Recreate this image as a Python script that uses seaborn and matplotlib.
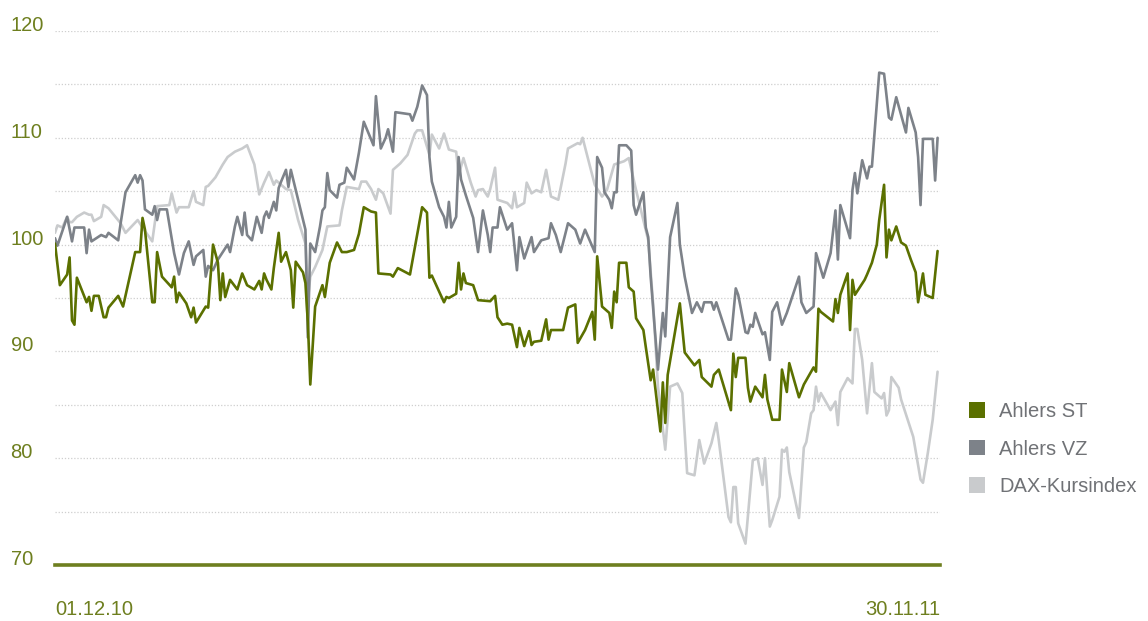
import pandas as pd
import seaborn as sns
import matplotlib.pyplot as plt
from matplotlib.patches import Patch
from matplotlib.ticker import MultipleLocator

# days since 01.12.10, indexed to 100
st_day = [0, 2, 5, 6, 7, 8, 9, 13, 14, 15, 16, 18, 20, 21, 22, 26, 28, 33, 35, 36, 37, 40, 41, 42, 44,
          48, 49, 50, 51, 54, 56, 57, 58, 62, 63, 65, 67, 68, 69, 70, 72, 75, 77, 79, 82, 84, 85, 86, 87,
          89, 90, 92, 93, 95, 97, 98, 99, 102, 103, 104, 105, 107, 110, 111, 113, 116, 118, 120, 123,
          125, 127, 130, 132, 133, 138, 139, 141, 146, 151, 153, 154, 155, 160, 161, 162, 165, 166, 167,
          168, 169, 172, 174, 179, 181, 182, 184, 186, 188, 190, 191, 193, 195, 196, 197, 200, 202, 203,
          204, 209, 211, 214, 215, 218, 221, 222, 223, 225, 228, 229, 230, 231, 232, 235, 236, 238, 239,
          242, 243, 245, 246, 249, 250, 251, 252, 257, 259, 263, 265, 266, 270, 271, 273, 278, 279, 280,
          281, 284, 285, 286, 288, 291, 292, 293, 295, 298, 299, 301, 302, 306, 308, 312, 313, 314, 315,
          320, 321, 322, 323, 326, 327, 328, 329, 333, 334, 336, 338, 339, 341, 342, 343, 344, 346, 348,
          350, 352, 354, 355, 357, 358, 361, 363]
st_val = [100.1, 96.2, 97.2, 98.8, 92.9, 92.5, 96.9, 94.6, 95.1, 93.8, 95.2, 95.2, 93.2, 93.2, 94.1,
          95.2, 94.2, 99.3, 99.3, 102.5, 101.4, 94.6, 94.6, 99.3, 97.0, 96.0, 97.0, 94.6, 95.5, 94.5,
          93.2, 94.1, 92.7, 94.2, 94.1, 100.0, 98.3, 94.8, 97.3, 95.1, 96.7, 95.8, 97.3, 96.2, 95.8,
          96.6, 95.8, 97.3, 96.7, 95.8, 97.8, 101.1, 98.4, 99.3, 97.6, 94.1, 98.4, 97.4, 96.4, 92.7,
          86.9, 94.2, 96.2, 95.1, 98.3, 100.2, 99.3, 99.3, 99.5, 101.0, 103.5, 103.1, 103.0, 97.3,
          97.2, 97.0, 97.8, 97.2, 103.5, 103.0, 96.9, 97.1, 94.6, 95.1, 95.0, 95.4, 98.3, 95.8, 97.3,
          96.4, 96.2, 94.8, 94.7, 95.2, 93.2, 92.5, 92.6, 92.5, 90.4, 92.2, 90.5, 91.9, 90.6, 90.9,
          91.0, 93.0, 91.1, 92.0, 92.0, 94.1, 94.4, 90.8, 92.0, 93.7, 91.1, 98.9, 94.2, 93.6, 92.2,
          95.6, 94.6, 98.3, 98.3, 96.0, 95.6, 93.1, 92.0, 90.4, 87.3, 88.3, 82.5, 87.1, 83.3, 87.8,
          94.5, 89.9, 88.7, 89.2, 87.6, 86.7, 87.8, 88.3, 84.5, 89.8, 87.6, 89.4, 89.4, 86.6, 85.3,
          86.7, 85.7, 87.8, 85.5, 83.6, 83.6, 88.3, 86.2, 88.9, 85.7, 86.9, 88.5, 88.1, 94.0, 93.7,
          92.8, 94.9, 93.6, 95.3, 97.3, 92.0, 96.7, 95.3, 96.7, 97.2, 98.3, 100.0, 102.3, 105.6, 98.8,
          101.4, 100.4, 101.7, 100.2, 99.9, 98.6, 97.4, 94.6, 97.3, 95.3, 95.0, 99.4]

vz_day = [0, 1, 5, 7, 8, 12, 13, 14, 15, 19, 21, 22, 26, 27, 29, 33, 34, 35, 36, 37, 40, 41, 42, 43,
          46, 49, 51, 53, 55, 57, 58, 61, 62, 63, 65, 67, 71, 72, 74, 75, 77, 78, 79, 81, 83, 85, 86,
          87, 88, 90, 91, 92, 93, 95, 96, 97, 100, 103, 104, 105, 107, 109, 110, 111, 112, 113, 116,
          117, 119, 120, 123, 125, 127, 131, 132, 134, 136, 137, 139, 140, 146, 147, 149, 151, 153,
          154, 155, 158, 160, 161, 162, 163, 165, 166, 167, 169, 172, 174, 176, 178, 179, 180, 182,
          183, 186, 188, 190, 191, 193, 196, 197, 200, 203, 204, 206, 208, 211, 214, 216, 218, 222,
          223, 225, 226, 228, 229, 230, 231, 232, 235, 237, 238, 239, 242, 243, 244, 245, 248, 250,
          251, 253, 256, 257, 259, 262, 264, 266, 267, 270, 271, 272, 274, 277, 278, 280, 281, 284,
          285, 286, 287, 288, 291, 292, 294, 295, 297, 299, 301, 306, 307, 309, 312, 313, 316, 319,
          321, 322, 323, 327, 328, 329, 330, 332, 334, 335, 336, 339, 341, 343, 344, 346, 350, 351,
          354, 355, 356, 357, 361, 362, 363]
vz_val = [100.6, 99.9, 102.6, 100.3, 101.6, 101.6, 99.2, 101.4, 100.3, 100.9, 100.7, 101.1, 100.4,
          102.0, 104.9, 106.5, 105.8, 106.5, 106.0, 103.3, 102.8, 103.6, 102.3, 103.3, 103.3, 99.2,
          97.2, 99.2, 100.3, 98.1, 98.9, 99.5, 97.0, 98.0, 97.6, 98.6, 100.0, 99.3, 101.7, 102.6,
          100.9, 103.0, 100.9, 100.4, 102.6, 101.1, 102.6, 103.1, 102.5, 104.0, 103.2, 105.3, 105.9,
          107.0, 105.4, 107.0, 104.2, 101.4, 91.3, 100.1, 99.3, 101.7, 103.2, 103.5, 106.7, 105.1,
          104.4, 105.6, 105.8, 107.2, 106.1, 108.6, 111.5, 109.3, 113.9, 109.0, 110.0, 110.8, 108.7,
          112.4, 112.2, 111.6, 112.9, 114.9, 114.0, 108.2, 105.9, 103.5, 102.6, 101.6, 104.0, 101.6,
          102.6, 108.2, 106.1, 104.6, 102.5, 99.3, 103.2, 100.9, 99.3, 101.6, 101.6, 103.5, 101.4,
          102.0, 97.6, 100.7, 98.7, 100.7, 99.3, 100.4, 100.6, 102.0, 100.9, 99.3, 102.0, 101.4,
          100.1, 101.4, 99.3, 108.2, 107.2, 104.9, 104.2, 103.4, 104.9, 104.9, 109.3, 109.3, 108.8,
          103.7, 102.8, 104.9, 101.6, 100.7, 97.0, 88.3, 93.6, 91.4, 100.7, 103.9, 100.0, 97.0, 93.6,
          94.6, 93.7, 94.6, 94.6, 93.9, 94.6, 93.2, 91.1, 91.1, 95.9, 95.3, 91.8, 91.7, 92.5, 92.3,
          93.6, 91.6, 91.8, 89.2, 93.7, 94.6, 92.5, 93.6, 97.0, 94.6, 93.6, 94.2, 99.2, 96.9, 99.2,
          103.2, 98.6, 103.7, 100.6, 105.1, 106.7, 104.8, 107.9, 106.2, 107.3, 107.3, 116.1, 116.0,
          111.9, 111.7, 113.8, 110.5, 112.8, 110.5, 108.2, 103.7, 109.9, 109.9, 106.0, 110.0]

dax_day = [0, 1, 3, 5, 6, 7, 9, 12, 14, 15, 16, 19, 20, 22, 27, 29, 34, 36, 40, 42, 47, 48, 50, 51,
           55, 57, 58, 61, 62, 63, 66, 69, 71, 74, 77, 79, 82, 84, 86, 88, 90, 91, 95, 97, 100, 103,
           104, 105, 107, 110, 112, 117, 118, 120, 125, 126, 128, 130, 132, 133, 135, 138, 139, 142,
           145, 148, 149, 151, 154, 155, 158, 160, 162, 165, 166, 168, 171, 173, 174, 176, 178, 179,
           181, 182, 186, 188, 189, 190, 193, 194, 196, 198, 200, 202, 204, 207, 210, 211, 215, 216,
           217, 222, 225, 227, 230, 234, 236, 239, 242, 244, 246, 248, 251, 253, 256, 258, 260, 263,
           265, 267, 270, 272, 273, 277, 278, 279, 280, 281, 284, 287, 289, 291, 292, 294, 295, 298,
           299, 300, 301, 302, 306, 308, 309, 311, 312, 313, 314, 315, 317, 319, 321, 322, 323, 326,
           328, 329, 330, 332, 334, 336, 337, 340, 341, 342, 343, 344, 347, 348, 353, 356, 357, 359,
           361, 363]
dax_val = [101.1, 101.8, 101.6, 102.6, 102.1, 102.1, 102.6, 103.0, 102.8, 102.8, 102.2, 102.6, 103.7,
           103.4, 102.0, 101.1, 102.3, 101.6, 100.3, 103.6, 103.7, 104.8, 103.0, 103.5, 103.5, 105.0,
           104.0, 103.7, 105.4, 105.5, 106.3, 107.5, 108.2, 108.7, 109.0, 109.3, 107.5, 104.7, 105.8,
           106.8, 105.6, 106.0, 105.2, 105.1, 102.3, 100.1, 94.8, 97.0, 97.9, 99.5, 101.7, 101.8,
           103.2, 105.4, 105.2, 105.9, 105.9, 105.2, 104.2, 105.2, 104.8, 102.9, 107.0, 107.6, 108.4,
           110.4, 110.7, 110.7, 108.4, 110.3, 109.0, 110.4, 108.9, 108.7, 106.5, 108.1, 105.8, 104.5,
           105.1, 105.2, 104.5, 105.2, 107.2, 104.2, 103.9, 103.4, 104.9, 103.5, 103.9, 105.8, 104.8,
           105.1, 104.9, 107.0, 104.5, 104.2, 107.6, 109.0, 109.5, 109.4, 110.0, 105.6, 104.5, 105.1,
           107.5, 107.8, 108.1, 105.1, 102.3, 100.4, 94.5, 86.7, 80.8, 86.7, 87.0, 86.1, 78.6, 78.4,
           81.7, 79.5, 81.4, 83.3, 81.7, 74.5, 74.0, 77.3, 77.3, 73.9, 72.0, 79.8, 80.0, 77.5, 80.0,
           73.6, 74.2, 76.4, 80.8, 80.6, 81.0, 78.7, 74.4, 81.0, 81.5, 84.2, 84.5, 86.7, 85.3, 86.1,
           85.3, 84.5, 85.3, 83.1, 86.2, 87.5, 87.0, 92.1, 92.1, 89.2, 84.2, 88.9, 86.2, 85.6, 86.1,
           84.0, 84.5, 87.6, 86.6, 85.5, 82.0, 78.0, 77.7, 80.5, 83.6, 88.1]

series_names = ['Ahlers ST', 'Ahlers VZ', 'DAX-Kursindex']
x_labels = ['01.12.10', '30.11.11']

colors = {'Ahlers ST': '#5b7000', 'Ahlers VZ': '#7d8289', 'DAX-Kursindex': '#c9cbcd'}
olive = '#6e7f1f'

frames = [
    pd.DataFrame({'day': st_day, 'value': st_val, 'series': 'Ahlers ST'}),
    pd.DataFrame({'day': vz_day, 'value': vz_val, 'series': 'Ahlers VZ'}),
    pd.DataFrame({'day': dax_day, 'value': dax_val, 'series': 'DAX-Kursindex'}),
]
data = pd.concat(frames, ignore_index=True)

sns.set_theme(style='white')
plt.rcParams['font.family'] = ['Liberation Sans', 'DejaVu Sans']

fig = plt.figure(figsize=(11.48, 6.21), dpi=100)
ax = fig.add_axes([55 / 1148, 1 - 565 / 621, 885 / 1148, 534 / 621])

# lightest first so the green line ends up on top
sns.lineplot(data=data, x='day', y='value', hue='series',
             hue_order=series_names[::-1], palette=colors,
             linewidth=1.9, estimator=None, legend=False, ax=ax)

ax.set_xlim(0, 364)
ax.set_ylim(70, 120)
ax.set_xlabel('')
ax.set_ylabel('')

ax.yaxis.set_major_locator(MultipleLocator(10))
ax.yaxis.set_minor_locator(MultipleLocator(5))
ax.grid(axis='y', which='both', color='#cfcfcf', linestyle=(0, (1, 1.5)), linewidth=0.9)
ax.grid(axis='x', visible=False)
ax.set_axisbelow(True)

for side in ['left', 'right', 'top']:
    ax.spines[side].set_visible(False)
ax.spines['bottom'].set_color(olive)
ax.spines['bottom'].set_linewidth(2.6)

ax.tick_params(axis='y', which='both', length=0, pad=32, labelsize=14.5, labelcolor=olive)
plt.setp(ax.get_yticklabels(), ha='left', va='baseline')

ax.set_xticks([0, 364], x_labels)
ax.tick_params(axis='x', length=0, pad=25, labelsize=14.5, labelcolor=olive)
xl = ax.get_xticklabels()
xl[0].set_ha('left')
xl[1].set_ha('right')

handles = [Patch(facecolor=colors[n], edgecolor='none') for n in series_names]
fig.legend(handles, series_names, loc='upper left', bbox_to_anchor=(969 / 1148, 1 - 402 / 621),
           frameon=False, fontsize=14.5, labelcolor='#707276', handlelength=0.8, handleheight=0.8,
           handletextpad=0.7, labelspacing=0.92, borderpad=0, borderaxespad=0)

fig.savefig('out.png', dpi=100)
